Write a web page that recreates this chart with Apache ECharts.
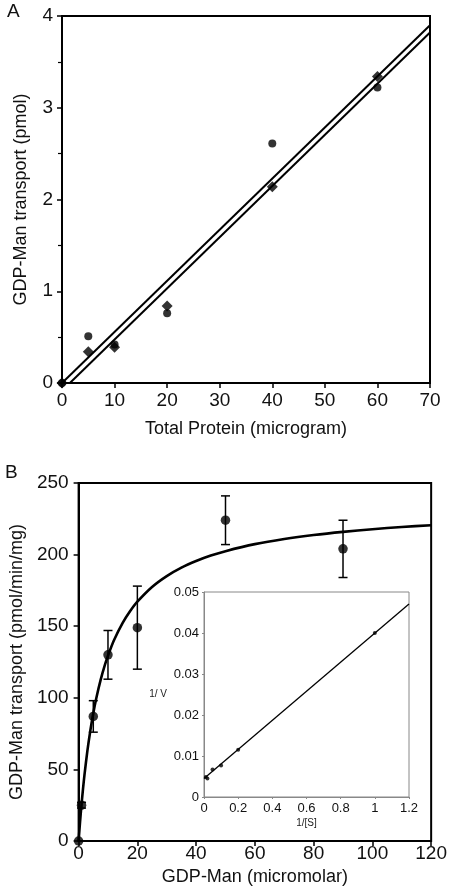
<!DOCTYPE html>
<html>
<head>
<meta charset="utf-8">
<script src="https://cdn.jsdelivr.net/npm/echarts@6/dist/echarts.min.js"></script>
<style>html,body{margin:0;padding:0;background:#fff}#c{width:450px;height:894px}</style>
</head>
<body>
<div id="c"></div>
<script>
// Panel A data
const aX = [0, 5, 10, 20, 40, 60];
const aCircle = [0, 0.51, 0.42, 0.76, 2.61, 3.22];
const aDiamond = [0, 0.34, 0.39, 0.84, 2.14, 3.34];
const aFitUpperX = [0, 70];
const aFitUpperY = [0, 3.90];
const aFitLowerX = [1.5, 70];
const aFitLowerY = [0, 3.82];
const aXTicks = [0, 70, 10];
const aYTicks = [0, 4, 1];

// Panel B data
const bX = [0, 1, 5, 10, 20, 50, 90];
const bY = [0, 25, 87, 130, 149, 224, 204];
const bErr = [0, 2, 11, 17, 29, 17, 20];
const curveX = [0, 0.5, 1, 1.5, 2, 3, 4, 5, 6, 7.5, 9, 10, 12, 15, 17.5, 20, 25, 30, 35, 40, 45, 50, 60, 70, 80, 90, 100, 110, 120];
const curveY = [0, 13.5, 25.6, 36.4, 46.2, 63.1, 77.2, 89.2, 99.5, 112.5, 123.3, 129.4, 140.0, 152.3, 160.4, 167.1, 177.4, 185.0, 190.9, 195.5, 199.3, 202.4, 207.3, 210.9, 213.7, 215.9, 217.7, 219.3, 220.5];

// Inset (Lineweaver-Burk)
const invS = [0.011, 0.02, 0.05, 0.1, 0.2, 1];
const invV = [0.0049, 0.0045, 0.0067, 0.0077, 0.0115, 0.04];
const lbFitX = [0, 1.2];
const lbFitY = [0.0045, 0.0471];

const FONT = "'Liberation Sans', Arial, sans-serif";
const zip = (xs, ys) => xs.map((x, i) => [x, ys[i]]);

const chart = echarts.init(document.getElementById('c'), null, {renderer: 'canvas'});

const axisCommon = (extra) => Object.assign({
  axisLine: {show: true, onZero: false, lineStyle: {color: '#000', width: 2}},
  axisTick: {show: true, inside: false, length: 5, lineStyle: {color: '#000', width: 1.5}},
  splitLine: {show: false},
  axisLabel: {color: '#111', fontSize: 19, fontFamily: FONT},
  nameTextStyle: {color: '#111', fontSize: 18, fontFamily: FONT},
  nameLocation: 'middle'
}, extra);

const option = {
  animation: false,
  backgroundColor: '#fff',
  title: [
    {text: 'A', left: 2, top: -3, textStyle: {fontSize: 19, fontWeight: 'normal', color: '#111', fontFamily: FONT}},
    {text: 'B', left: 0, top: 458, textStyle: {fontSize: 19, fontWeight: 'normal', color: '#111', fontFamily: FONT}}
  ],
  grid: [
    {left: 62, top: 16, width: 368, height: 367, show: true, borderColor: '#000', borderWidth: 2, containLabel: false},
    {left: 77, top: 483, width: 357, height: 358, show: true, borderColor: '#000', borderWidth: 2, containLabel: false},
    {left: 204, top: 592, width: 205, height: 205, show: true, borderColor: '#888', borderWidth: 1, backgroundColor: '#fff', containLabel: false}
  ],
  xAxis: [
    axisCommon({gridIndex: 0, type: 'value', min: aXTicks[0], max: aXTicks[1], interval: aXTicks[2],
      name: 'Total Protein (microgram)', nameGap: 37,
      axisLabel: {color: '#111', fontSize: 19, fontFamily: FONT, margin: 8}}),
    axisCommon({gridIndex: 1, type: 'value', min: 0, max: 120, interval: 20,
      name: 'GDP-Man (micromolar)', nameGap: 27,
      axisLabel: {color: '#111', fontSize: 19, fontFamily: FONT, margin: 3}}),
    {gridIndex: 2, type: 'value', min: 0, max: 1.2, interval: 0.2, nameLocation: 'middle',
      name: '1/[S]', nameGap: 21, nameTextStyle: {color: '#222', fontSize: 10, fontFamily: FONT},
      axisLine: {show: true, onZero: false, lineStyle: {color: '#888', width: 1}},
      axisTick: {show: true, length: 2, lineStyle: {color: '#888'}},
      splitLine: {show: false},
      axisLabel: {color: '#111', fontSize: 13, fontFamily: FONT, margin: 5}}
  ],
  yAxis: [
    axisCommon({gridIndex: 0, type: 'value', min: aYTicks[0], max: aYTicks[1], interval: aYTicks[2],
      name: 'GDP-Man transport (pmol)', nameGap: 32,
      minorTick: {show: true, splitNumber: 2, length: 4, lineStyle: {color: '#000', width: 1.2}},
      axisLabel: {color: '#111', fontSize: 19, fontFamily: FONT, margin: 9}}),
    axisCommon({gridIndex: 1, type: 'value', min: 0, max: 250, interval: 50,
      name: 'GDP-Man transport (pmol/min/mg)', nameGap: 50,
      axisLabel: {color: '#111', fontSize: 19, fontFamily: FONT, margin: 10}}),
    {gridIndex: 2, type: 'value', min: 0, max: 0.05, interval: 0.01, nameLocation: 'middle',
      name: '1/ V', nameGap: 37, nameRotate: 0,
      nameTextStyle: {color: '#222', fontSize: 10, fontFamily: FONT, padding: [0, 0, 16, 0]},
      axisLine: {show: true, onZero: false, lineStyle: {color: '#888', width: 1}},
      axisTick: {show: true, length: 2, lineStyle: {color: '#888'}},
      splitLine: {show: false},
      axisLabel: {color: '#111', fontSize: 13, fontFamily: FONT, margin: 5}}
  ],
  series: [
    {type: 'line', xAxisIndex: 0, yAxisIndex: 0, data: zip(aFitUpperX, aFitUpperY), symbol: 'none',
      lineStyle: {color: '#000', width: 2}, z: 2},
    {type: 'line', xAxisIndex: 0, yAxisIndex: 0, data: zip(aFitLowerX, aFitLowerY), symbol: 'none',
      lineStyle: {color: '#000', width: 2}, z: 2},
    {type: 'scatter', xAxisIndex: 0, yAxisIndex: 0, data: zip(aX, aCircle), symbol: 'circle', symbolSize: 8,
      itemStyle: {color: '#000'}, z: 3},
    {type: 'scatter', xAxisIndex: 0, yAxisIndex: 0, data: zip(aX, aDiamond), symbol: 'diamond', symbolSize: 11,
      itemStyle: {color: '#000'}, z: 3},

    {type: 'line', xAxisIndex: 1, yAxisIndex: 1, data: zip(curveX, curveY), symbol: 'none',
      smooth: 0.25,
      lineStyle: {color: '#000', width: 2.6}, z: 2},
    {type: 'custom', xAxisIndex: 1, yAxisIndex: 1,
      data: bX.map((x, i) => [x, bY[i] - bErr[i], bY[i] + bErr[i]]).filter((d, i) => bErr[i] > 0),
      encode: {x: 0, y: [1, 2]},
      renderItem: function (params, api) {
        const x = api.value(0);
        const lo = api.coord([x, api.value(1)]);
        const hi = api.coord([x, api.value(2)]);
        const w = 4.5;
        const st = {stroke: '#000', lineWidth: 1.5};
        return {type: 'group', children: [
          {type: 'line', shape: {x1: lo[0], y1: lo[1], x2: hi[0], y2: hi[1]}, style: st},
          {type: 'line', shape: {x1: lo[0] - w, y1: lo[1], x2: lo[0] + w, y2: lo[1]}, style: st},
          {type: 'line', shape: {x1: hi[0] - w, y1: hi[1], x2: hi[0] + w, y2: hi[1]}, style: st}
        ]};
      }, z: 3},
    {type: 'scatter', xAxisIndex: 1, yAxisIndex: 1, data: zip(bX, bY), symbol: 'circle', symbolSize: 9.5,
      itemStyle: {color: '#000'}, z: 4},

    {type: 'line', xAxisIndex: 2, yAxisIndex: 2, data: zip(lbFitX, lbFitY), symbol: 'none',
      lineStyle: {color: '#000', width: 1.3}, z: 5},
    {type: 'scatter', xAxisIndex: 2, yAxisIndex: 2, data: zip(invS, invV), symbol: 'circle', symbolSize: 4,
      itemStyle: {color: '#000'}, z: 6}
  ]
};
chart.setOption(option);
</script>
</body>
</html>
